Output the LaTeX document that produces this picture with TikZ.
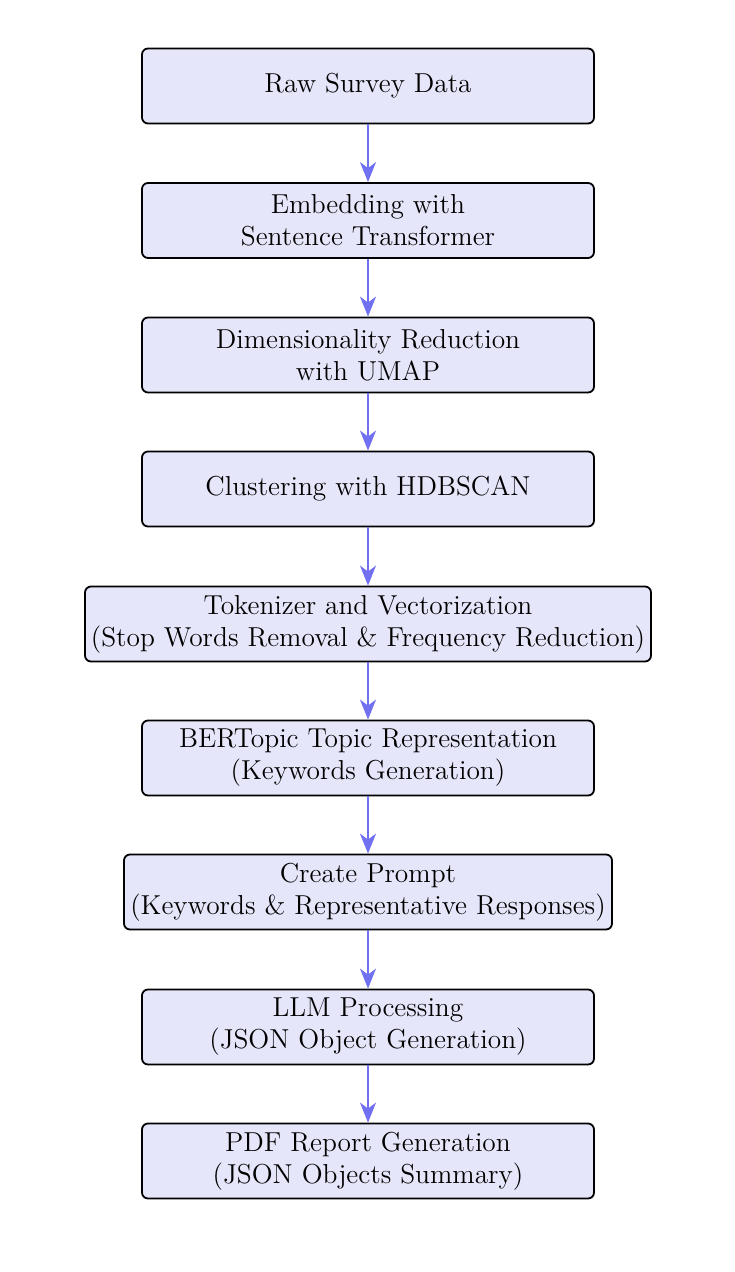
\documentclass[tikz,border=0pt]{standalone}
\usetikzlibrary{arrows.meta}
\definecolor{boxfill}{HTML}{E6E6FA}
\definecolor{arrowblue}{HTML}{7070F0}
\begin{document}
\begin{tikzpicture}[x=0.5pt,y=-0.5pt,
  stepbox/.style={draw=black, line width=0.9pt, fill=boxfill, rounded corners=3pt,
    minimum width=226pt, minimum height=37.5pt, align=center, inner sep=2pt,
    font=\fontsize{13.7}{16}\selectfont},
  flow/.style={draw=arrowblue, line width=0.9pt, -{Stealth[length=10pt,width=8pt,inset=3pt]}}]
\useasboundingbox (0,0) rectangle (734,1272);
\node[stepbox] (n1) at (368,86) {Raw Survey Data};
\node[stepbox] (n2) at (368,220.5) {Embedding with\\Sentence Transformer};
\node[stepbox] (n3) at (368,355) {Dimensionality Reduction\\with UMAP};
\node[stepbox] (n4) at (368,489) {Clustering with HDBSCAN};
\node[stepbox, minimum width=283pt] (n5) at (368,624) {Tokenizer and Vectorization\\(Stop Words Removal \& Frequency Reduction)};
\node[stepbox] (n6) at (368,758) {BERTopic Topic Representation\\(Keywords Generation)};
\node[stepbox, minimum width=244pt] (n7) at (368,892) {Create Prompt\\(Keywords \& Representative Responses)};
\node[stepbox] (n8) at (368,1027) {LLM Processing\\(JSON Object Generation)};
\node[stepbox] (n9) at (368,1161) {PDF Report Generation\\(JSON Objects Summary)};
\foreach \a/\b in {n1/n2,n2/n3,n3/n4,n4/n5,n5/n6,n6/n7,n7/n8,n8/n9}
  \draw[flow] (\a) -- (\b);
\end{tikzpicture}
\end{document}
